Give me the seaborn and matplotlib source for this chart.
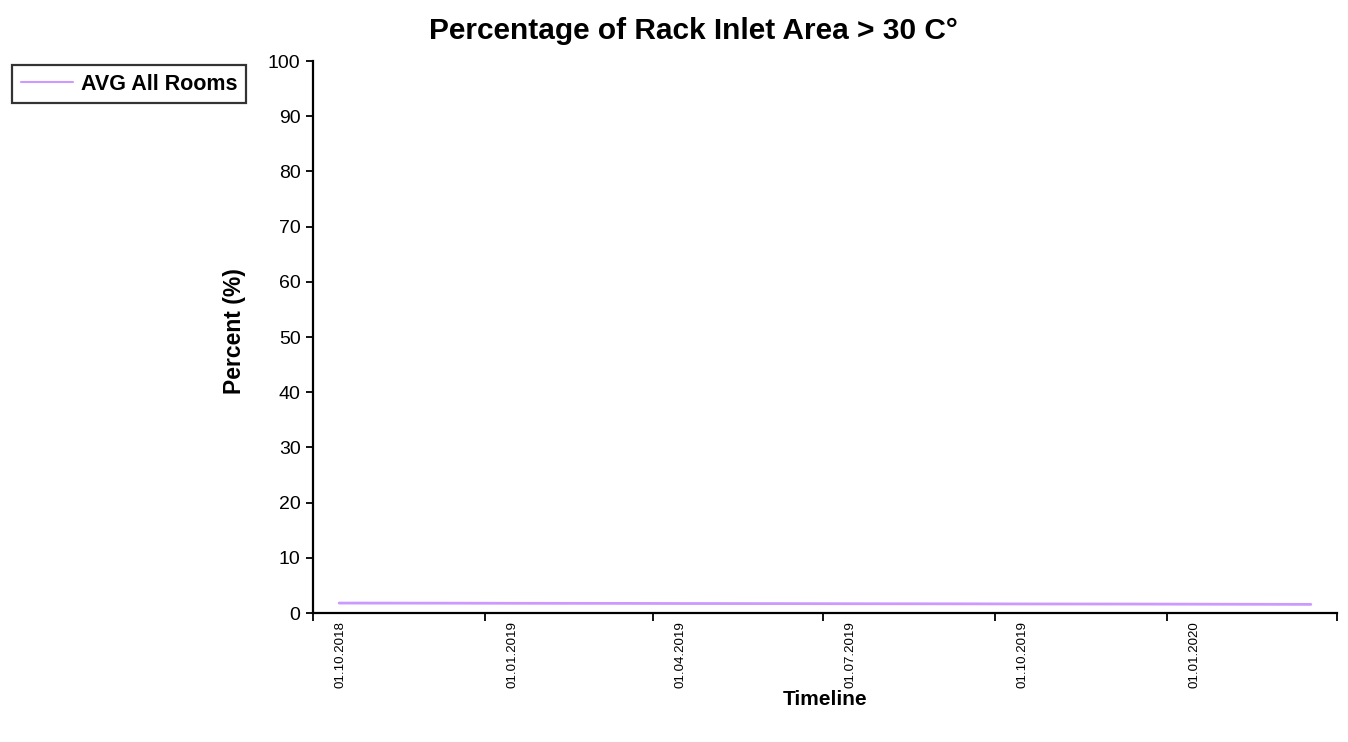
import matplotlib
matplotlib.use("Agg")
import matplotlib.pyplot as plt
import seaborn as sns
import pandas as pd
import numpy as np

# ---- data ----
dates = ["2018-10-15", "2018-11-15", "2018-12-15", "2019-01-15", "2019-02-15",
         "2019-03-15", "2019-04-15", "2019-05-15", "2019-06-15", "2019-07-15",
         "2019-08-15", "2019-09-15", "2019-10-15", "2019-11-15", "2019-12-15",
         "2020-01-15", "2020-02-15", "2020-03-18"]
values = [1.80, 1.79, 1.78, 1.76, 1.75, 1.74, 1.72, 1.71, 1.70, 1.68,
          1.67, 1.66, 1.64, 1.63, 1.62, 1.60, 1.58, 1.56]
series_name = "AVG All Rooms"
tick_dates = ["2018-10-01", "2019-01-01", "2019-04-01", "2019-07-01",
              "2019-10-01", "2020-01-01", "2020-04-01"]
tick_labels = ["01.10.2018", "01.01.2019", "01.04.2019", "01.07.2019",
               "01.10.2019", "01.01.2020"]

df = pd.DataFrame({"date": pd.to_datetime(dates), "value": values, "series": series_name})

sns.set_theme(style="white")
plt.rcParams["font.family"] = ["Liberation Sans", "DejaVu Sans"]
plt.rcParams["text.color"] = "black"
plt.rcParams["axes.labelcolor"] = "black"
plt.rcParams["xtick.color"] = "black"
plt.rcParams["ytick.color"] = "black"

fig = plt.figure(figsize=(13.48, 7.42), dpi=100)
ax = fig.add_axes([313 / 1348, 1 - 613 / 742, 1024 / 1348, 552 / 742])

sns.lineplot(data=df, x="date", y="value", hue="series", palette=["#CC99FF"],
             linewidth=2, ax=ax, legend=True)

ax.set_ylim(0, 100)
ax.set_yticks(np.arange(0, 101, 10))
tick_ts = pd.to_datetime(tick_dates)
ax.set_xlim(tick_ts[0], tick_ts[-1])
ax.set_xticks(tick_ts)
ax.set_xticklabels([""] * len(tick_ts))
# labels sit slightly to the right of each tick, as in the original
label_ts = tick_ts[:-1] + pd.Timedelta(days=14.5)
ax.set_xticks(label_ts, minor=True)
ax.set_xticklabels(tick_labels, minor=True, rotation=90, fontsize=9.6,
                   va="top", ha="center")
ax.tick_params(axis="x", which="minor", length=0, pad=6)

for s in ["top", "right"]:
    ax.spines[s].set_visible(False)
for s in ["left", "bottom"]:
    ax.spines[s].set_color("black")
    ax.spines[s].set_linewidth(1.6)

ax.tick_params(axis="y", which="major", direction="out", length=5, width=1.3,
               color="black", labelsize=14, labelcolor="black", pad=4, left=True)
ax.tick_params(axis="x", which="major", direction="out", length=6, width=1.3,
               color="black", labelcolor="black", bottom=True)

ax.set_ylabel("Percent (%)", fontsize=16.5, fontweight="bold")
ax.yaxis.set_label_coords((246 - 313) / 1024, (613 - 331) / 552)
ax.set_xlabel("Timeline", fontsize=15, fontweight="bold", va="top")
ax.xaxis.set_label_coords(0.5, (613 - 690) / 552)
fig.text(693 / 1348, 1 - 31 / 742, "Percentage of Rack Inlet Area > 30 C°",
         ha="center", va="center", fontsize=21.5, fontweight="bold")

leg = ax.legend(loc="upper left", bbox_to_anchor=(12 / 1348, 1 - 65 / 742),
                bbox_transform=fig.transFigure, frameon=True, fancybox=False,
                borderpad=0.4, handlelength=2.45, handletextpad=0.35,
                borderaxespad=0, prop={"weight": "bold", "size": 15.5})
leg.get_frame().set_edgecolor("black")
leg.get_frame().set_linewidth(1.6)
for line in leg.get_lines():
    line.set_linewidth(1.5)

fig.savefig("out.png", dpi=100)
